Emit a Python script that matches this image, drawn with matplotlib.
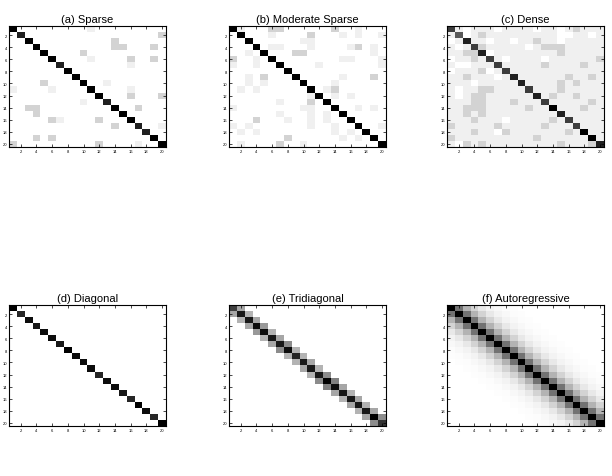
import numpy as np
import matplotlib
matplotlib.use("Agg")
import matplotlib.pyplot as plt

plt.rcParams['font.family'] = ['Liberation Sans', 'DejaVu Sans']

# gray level codes, 0 = white, 9 = black
gray_levels = [0.0, 0.06, 0.17, 0.25, 0.4, 0.5, 0.65, 0.76, 0.87, 1.0]

sparse_rows = [
    "90000000001000000000",
    "08000000000000000002",
    "00900000000002000000",
    "00090000000002200020",
    "00009000020000000000",
    "00000900001000020020",
    "00000080000000010000",
    "00000009000000000000",
    "00000000900000000000",
    "00002000090010000000",
    "10000100009000010000",
    "00000000000900020002",
    "00000000010080000000",
    "00220000000009002000",
    "00020000000000900000",
    "00000210000200090000",
    "00000000000002008001",
    "00000000000000000800",
    "00020200000000000090",
    "20000000000200001009",
]

moderate_rows = [
    "91000220000002001000",
    "09000100002000101001",
    "00900000011000000000",
    "00090110001000012010",
    "00109000220000000010",
    "20010900000000110001",
    "10010090000100000001",
    "00000009000000000000",
    "00102000900000100020",
    "00101000090001000000",
    "01010000009012000000",
    "00000000001901010000",
    "00000010002090000000",
    "10000000011009001010",
    "00000010001010900000",
    "00020001001010090000",
    "10100000001001009001",
    "01010000000001010900",
    "00000002000000101090",
    "01000020010000000009",
]

dense_rows = [
    "71011101111011012111",
    "16012111111111001101",
    "01811011011211011111",
    "10172111110122211111",
    "11228011111111211111",
    "01121710111101111112",
    "10011171111121111211",
    "01112017111111111111",
    "11211101811111121121",
    "11101111181111212111",
    "10112211117111211111",
    "10122111111812112111",
    "11122111211171111121",
    "11222111112119111211",
    "11212111111111811111",
    "11121110111112171111",
    "21111121111121117111",
    "11121102111111121911",
    "21111111111211111191",
    "10212111111111211128",
]

diag_values = [1.0, 0.85, 0.95, 0.9, 0.95, 0.95, 0.9, 1.0, 0.95, 0.95,
               0.95, 0.85, 0.95, 0.95, 0.9, 0.85, 1.0, 0.95, 0.85, 1.0]

tri_diag = [0.75, 0.9, 0.9, 0.95, 0.95, 0.9, 0.9, 0.95, 0.85, 0.9,
            0.9, 0.9, 1.0, 0.95, 0.9, 0.9, 0.9, 0.9, 1.0, 0.8]
tri_off = [0.35, 0.3, 0.35, 0.4, 0.3, 0.35, 0.45, 0.3, 0.3, 0.35,
           0.3, 0.45, 0.5, 0.35, 0.3, 0.35, 0.3, 0.35, 0.45]

ar_lags = [1.0, 0.55, 0.3, 0.17, 0.09, 0.05, 0.03, 0.015, 0.01]

titles = ["(a) Sparse", "(b) Moderate Sparse", "(c) Dense",
          "(d) Diagonal", "(e) Tridiagonal", "(f) Autoregressive"]

n = 20


def from_rows(rows):
    return np.array([[gray_levels[int(c)] for c in r] for r in rows])


tri = np.diag(tri_diag) + np.diag(tri_off, 1) + np.diag(tri_off, -1)

ar = np.zeros((n, n))
for i in range(n):
    for j in range(n):
        k = abs(i - j)
        ar[i, j] = ar_lags[k] if k < len(ar_lags) else 0.0

mats = [from_rows(sparse_rows), from_rows(moderate_rows), from_rows(dense_rows),
        np.diag(diag_values), tri, ar]

fig = plt.figure(figsize=(6.12, 4.77), dpi=100)

lefts = [9 / 612, 229 / 612, 447 / 612]
bottoms = [1 - 148 / 477, 1 - 427 / 477]
w = 157 / 612
h = 121 / 477

for idx, (m, t) in enumerate(zip(mats, titles)):
    r, c = divmod(idx, 3)
    ax = fig.add_axes([lefts[c], bottoms[r], w, h])
    ax.imshow(m, cmap='gray_r', vmin=0, vmax=1, aspect='auto',
              interpolation='nearest', extent=(0.5, n + 0.5, n + 0.5, 0.5))
    ax.set_xticks(range(2, n + 1, 2))
    ax.set_yticks(range(2, n + 1, 2))
    ax.tick_params(direction='in', length=2, width=0.5, labelsize=3,
                   top=True, right=True, pad=1.5)
    for s in ax.spines.values():
        s.set_linewidth(0.8)
    ax.set_title(t, fontsize=8, pad=3)

fig.savefig("out.png", dpi=100)
